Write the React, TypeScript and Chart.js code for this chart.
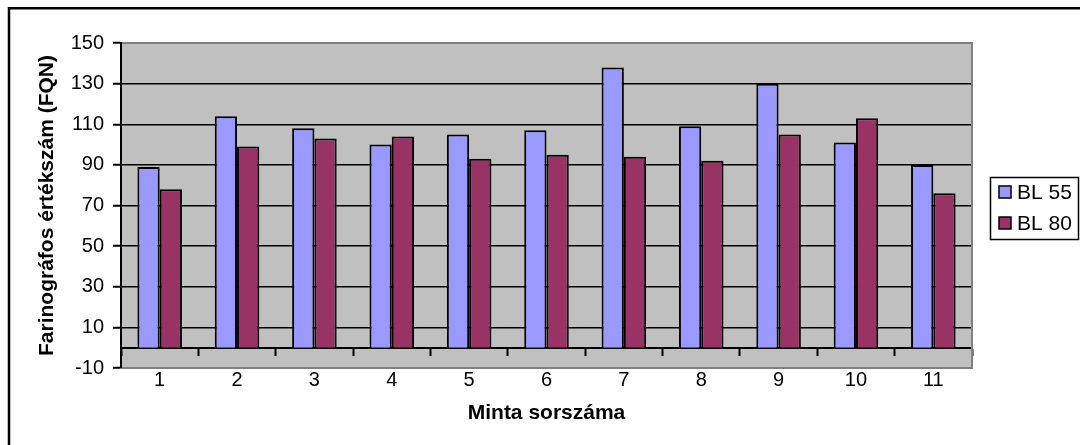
import React, { useEffect, useRef } from "react";
import { Chart, registerables } from "chart.js";

Chart.register(...registerables);

// Sample numbers on the category axis
const categories = ["1", "2", "3", "4", "5", "6", "7", "8", "9", "10", "11"];

// Farinograph quality numbers per sample
const seriesNames = ["BL 55", "BL 80"];
const bl55 = [89, 114, 108, 100, 105, 107, 138, 109, 130, 101, 90];
const bl80 = [78, 99, 103, 104, 93, 95, 94, 92, 105, 113, 76];
const seriesColors = ["#9999FF", "#993366"];

// Value axis range
const yMin = -10;
const yMax = 150;
const yStep = 20;

const xTitle = "Minta sorszáma";
const yTitle = "Farinográfos értékszám (FQN)";

const FONT = "'Liberation Sans', Arial, Helvetica, sans-serif";

// Page frame, grey plot area and its border, and the boxed legend
const excelLook = {
  id: "excelLook",
  beforeDraw(chart: any) {
    const { ctx, chartArea: a, width, height } = chart;
    ctx.save();
    ctx.fillStyle = "#ffffff";
    ctx.fillRect(0, 0, width, height);
    ctx.strokeStyle = "#000000";
    ctx.lineWidth = 2.5;
    ctx.beginPath();
    ctx.moveTo(9, height + 5);
    ctx.lineTo(9, 8.25);
    ctx.lineTo(width + 5, 8.25);
    ctx.stroke();
    ctx.fillStyle = "#C0C0C0";
    ctx.fillRect(a.left, a.top, a.right - a.left, a.bottom - a.top);
    ctx.restore();
  },
  afterDatasetsDraw(chart: any) {
    const { ctx, chartArea: a } = chart;
    ctx.save();
    ctx.strokeStyle = "#808080";
    ctx.lineWidth = 2;
    ctx.beginPath();
    ctx.moveTo(a.left + 1, a.top);
    ctx.lineTo(a.right, a.top);
    ctx.lineTo(a.right, a.bottom);
    ctx.lineTo(a.left + 1, a.bottom);
    ctx.stroke();
    ctx.restore();
  },
  afterDraw(chart: any) {
    const { ctx } = chart;
    const box = { x: 990, y: 177, w: 88, h: 62 };
    ctx.save();
    ctx.fillStyle = "#ffffff";
    ctx.fillRect(box.x, box.y, box.w, box.h);
    ctx.strokeStyle = "#000000";
    ctx.lineWidth = 1.5;
    ctx.strokeRect(box.x + 0.5, box.y + 0.5, box.w, box.h);
    ctx.font = `21px ${FONT}`;
    ctx.textBaseline = "middle";
    ctx.textAlign = "left";
    chart.data.datasets.forEach((ds: any, i: number) => {
      const cy = 192 + i * 31;
      ctx.fillStyle = ds.backgroundColor;
      ctx.fillRect(999, cy - 6, 12, 12);
      ctx.strokeStyle = "#000000";
      ctx.lineWidth = 1.5;
      ctx.strokeRect(999, cy - 6, 12, 12);
      ctx.fillStyle = "#000000";
      ctx.fillText(ds.label, 1017, cy + 1);
    });
    ctx.restore();
  },
};

export default function App() {
  const canvasRef = useRef<HTMLCanvasElement | null>(null);

  useEffect(() => {
    const canvas = canvasRef.current;
    if (!canvas) return;
    const chart = new Chart(canvas, {
      type: "bar",
      data: {
        labels: categories,
        datasets: [
          {
            label: seriesNames[0],
            data: bl55,
            backgroundColor: seriesColors[0],
            borderColor: "#000000",
            borderWidth: 2,
            categoryPercentage: 0.576,
            barPercentage: 1,
          },
          {
            label: seriesNames[1],
            data: bl80,
            backgroundColor: seriesColors[1],
            borderColor: "#000000",
            borderWidth: 2,
            categoryPercentage: 0.576,
            barPercentage: 1,
          },
        ],
      },
      options: {
        responsive: false,
        animation: false,
        devicePixelRatio: 1,
        layout: { padding: { top: 43, right: 108, left: 0, bottom: 0 } },
        plugins: {
          legend: { display: false },
          tooltip: { enabled: false },
        },
        scales: {
          x: {
            type: "category",
            position: "bottom",
            offset: true,
            grid: { display: false, drawTicks: false, offset: true },
            border: { display: false },
            ticks: {
              color: "#000000",
              font: { family: FONT, size: 20 },
              padding: 0,
              maxRotation: 0,
              autoSkip: false,
            },
            title: {
              display: true,
              text: xTitle,
              color: "#000000",
              font: { family: FONT, size: 21, weight: "bold" },
              padding: { top: 0, bottom: 19 },
            },
            afterFit(scale: any) {
              scale.height = 77;
            },
          },
          x0: {
            type: "category",
            position: { y: 0 },
            offset: true,
            grid: {
              drawOnChartArea: false,
              drawTicks: true,
              tickLength: 7,
              tickColor: "#000000",
              tickWidth: 2,
              offset: true,
            },
            border: { display: true, color: "#000000", width: 2 },
            ticks: { display: false },
          },
          y: {
            type: "linear",
            min: yMin,
            max: yMax,
            ticks: {
              stepSize: yStep,
              color: "#000000",
              font: { family: FONT, size: 20 },
              padding: 9,
            },
            grid: {
              color: (c: any) =>
                c.tick && (c.tick.value === yMin || c.tick.value === yMax)
                  ? "rgba(0,0,0,0)"
                  : "#000000",
              lineWidth: 1.5,
              tickColor: "#000000",
              tickLength: 8,
              tickWidth: 2,
            },
            border: { display: true, color: "#000000", width: 2 },
            title: {
              display: true,
              text: yTitle,
              color: "#000000",
              font: { family: FONT, size: 21, weight: "bold" },
              padding: { top: 35, bottom: 0 },
            },
            afterFit(scale: any) {
              scale.width = 121;
            },
          },
        },
      },
      plugins: [excelLook],
    });
    return () => chart.destroy();
  }, []);

  return (
    <div style={{ position: "fixed", left: 0, top: 0, width: 1080, height: 445, background: "#fff" }}>
      <canvas ref={canvasRef} width={1080} height={445} style={{ display: "block" }} />
    </div>
  );
}
